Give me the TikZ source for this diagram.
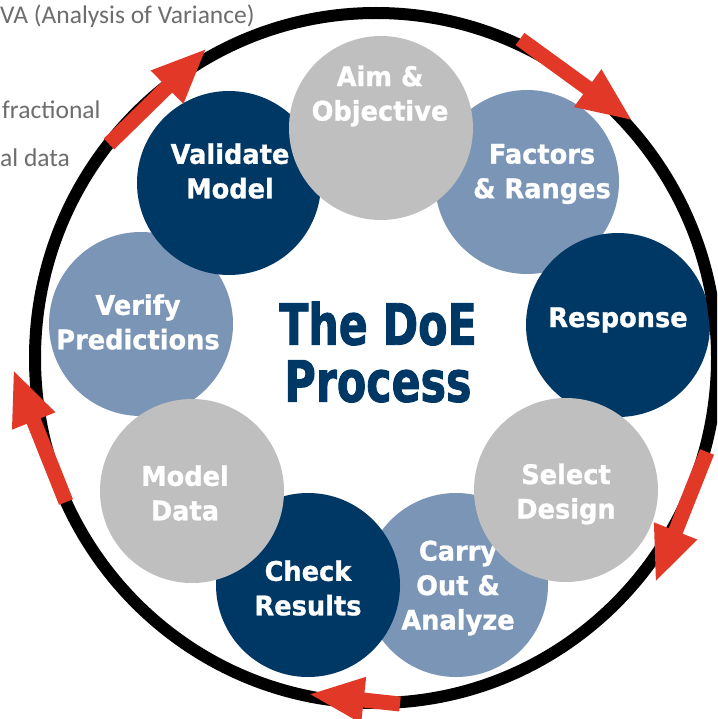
\documentclass[tikz,border=0pt]{standalone}
\usepackage{fontspec}
\usetikzlibrary{arrows.meta}
\newfontfamily\cfont[FakeStretch=0.95, FakeBold=1]{DejaVu Sans}
\newfontfamily\tfont[FakeStretch=0.75, FakeBold=1.5]{DejaVu Sans}
\newfontfamily\gfont{Carlito}
\definecolor{cgray}{HTML}{BFBFBF}
\definecolor{cblue}{HTML}{7A95B5}
\definecolor{cnavy}{HTML}{003865}
\definecolor{cred}{HTML}{E23828}
\definecolor{ctext}{HTML}{6D6D6D}
\tikzset{
  circ/.style={circle, draw=none, inner sep=0pt, minimum size=184pt},
  lbl/.style={text=white, align=center, inner sep=0pt, font=\cfont\bfseries\fontsize{27}{34.5}\selectfont},
  side/.style={text=ctext, inner sep=0pt, font=\gfont\fontsize{25.5}{30}\selectfont},
  ring/.style={draw=black, line width=12pt},
  redarrow/.style={draw=cred, line width=15pt, -{Triangle[width=42pt,length=56pt]}}
}
\begin{document}
\begin{tikzpicture}[x=1pt, y=-1pt]
\useasboundingbox (0,0) rectangle (717,719);
\clip (0,0) rectangle (717,719);
\fill[white] (0,0) rectangle (717,719);
% side texts
\node[side, anchor=base west] (s1) at (0,24) {VA (Analysis of Variance)};
\node[side, anchor=base west] (s2) at (2,119) {fractional};
\node[side, anchor=base west] (s3) at (0,167) {al data};
% blue circles
\node[circ, fill=cblue] (fac) at (527,182) {};
\node[lbl] (fact) at (542,174) {Factors\\\& Ranges};
\node[circ, fill=cblue] (car) at (456,585) {};
\node[lbl] (cart) at (458,588) {Carry\\Out \&\\Analyze};
\node[circ, fill=cblue] (ver) at (141,324) {};
\node[lbl] (vert) at (138,322) {Verify\\Predictions};
% navy circles
\node[circ, fill=cnavy] (res) at (618,325) {};
\node[lbl] (rest) at (618,320) {Response};
\node[circ, fill=cnavy] (chk) at (308,585) {};
\node[lbl] (chkt) at (308,588) {Check\\Results};
\node[circ, fill=cnavy] (val) at (229,183) {};
\node[lbl] (valt) at (230,171) {Validate\\Model};
% gray circles
\node[circ, fill=cgray] (aim) at (381,128) {};
\node[lbl] (aimt) at (380,96) {Aim \&\\Objective};
\node[circ, fill=cgray] (sel) at (566,490) {};
\node[lbl] (selt) at (566,494) {Select\\Design};
\node[circ, fill=cgray] (mod) at (192,491) {};
\node[lbl] (modt) at (185,493) {Model\\Data};
% title
\node[text=cnavy, align=center, inner sep=0pt, font=\tfont\bfseries\fontsize{57}{57}\selectfont] (title) at (378,352) {The DoE\\Process};
% ring
\coordinate (c0) at (376,358);
\draw[ring] (c0) ellipse [x radius=341, y radius=345];
% arrows
\coordinate (a1s) at (109,144); \coordinate (a1e) at (207,48);
\coordinate (a2s) at (520,39);  \coordinate (a2e) at (633,121);
\coordinate (a3s) at (707,452); \coordinate (a3e) at (655,583);
\coordinate (a4s) at (400,704); \coordinate (a4e) at (308,694);
\coordinate (a5s) at (66,502);  \coordinate (a5e) at (13,369);
\draw[redarrow] (a1s) -- (a1e);
\draw[redarrow] (a2s) -- (a2e);
\draw[redarrow] (a3s) -- (a3e);
\draw[redarrow] (a4s) -- (a4e);
\draw[redarrow] (a5s) -- (a5e);
\end{tikzpicture}
\end{document}
